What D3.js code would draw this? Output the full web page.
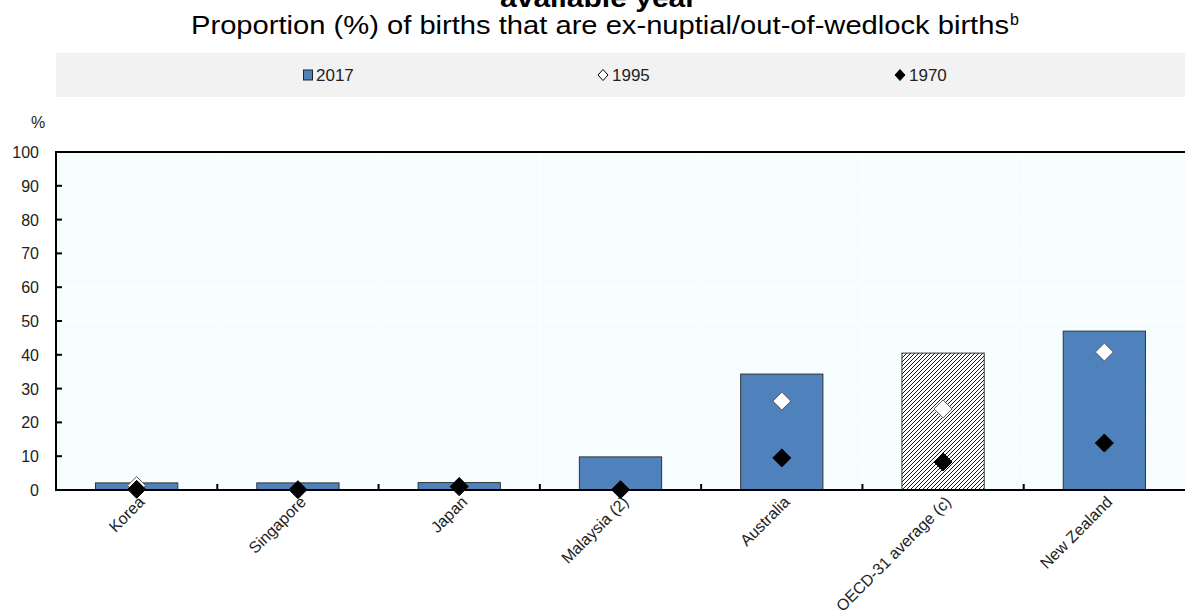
<!DOCTYPE html>
<html>
<head>
<meta charset="utf-8">
<script src="https://cdn.jsdelivr.net/npm/d3@7"></script>
<style>
  body { margin: 0; background: #fff; }
  svg { display: block; }
  text { font-family: "Liberation Sans", Arial, sans-serif; }
</style>
</head>
<body>
<div id="viz-container"></div>
<script>
const categories = ["Korea", "Singapore", "Japan", "Malaysia (2)", "Australia", "OECD-31 average (c)", "New Zealand"];
const values2017 = [2.1, 2.1, 2.2, 9.8, 34.3, 40.5, 47.0];
const values1995 = [1.3, null, 1.0, null, 26.3, 24.0, 40.8];
const values1970 = [0.2, 0.1, 1.0, 0.1, 9.5, 8.3, 13.9];
const yTicks = [0, 10, 20, 30, 40, 50, 60, 70, 80, 90, 100];
const legendLabels = ["2017", "1995", "1970"];

const width = 1185, height = 614;
const plotL = 56, plotR = 1185, plotT = 152, plotB = 490;

const viz = d3.select('#viz-container')
    .append('svg')
        .attr('width', width)
        .attr('height', height);

// pattern for the OECD average bar
const defs = viz.append('defs');
const pat = defs.append('pattern')
    .attr('id', 'hatch')
    .attr('patternUnits', 'userSpaceOnUse')
    .attr('width', 4)
    .attr('height', 4);
pat.append('rect').attr('width', 4).attr('height', 4).attr('fill', '#fff');
pat.append('path')
    .attr('d', 'M-1,1 l2,-2 M0,4 l4,-4 M3,5 l2,-2')
    .attr('stroke', '#000')
    .attr('stroke-width', 0.9);

// titles (first line is cut off at the top in the original)
viz.append('text')
    .attr('x', 500).attr('y', 7)
    .attr('textLength', 197).attr('lengthAdjust', 'spacingAndGlyphs')
    .style('font-weight', 'bold')
    .style('font-size', '26px')
    .text('available year');

viz.append('text')
    .attr('x', 191).attr('y', 34)
    .attr('textLength', 818).attr('lengthAdjust', 'spacingAndGlyphs')
    .style('font-size', '26px')
    .text('Proportion (%) of births that are ex-nuptial/out-of-wedlock births');
viz.append('text')
    .attr('x', 1010).attr('y', 25)
    .style('font-size', '16px')
    .text('b');

// legend band
viz.append('rect')
    .attr('x', 56).attr('y', 53)
    .attr('width', width - 56).attr('height', 44)
    .attr('fill', '#f2f2f2');

const legendX = [303, 597, 894];
const legend = viz.selectAll('.legend').data(legendLabels).enter()
    .append('g')
        .attr('transform', (d, i) => `translate(${legendX[i]},75)`);
legend.each(function (d, i) {
    const g = d3.select(this);
    if (i === 0) {
        g.append('rect').attr('x', 0.5).attr('y', -5).attr('width', 9).attr('height', 10)
            .attr('fill', '#4f81bd').attr('stroke', '#222').attr('stroke-width', 1);
    } else {
        g.append('path').attr('d', 'M6,-5.5 L11,0 L6,5.5 L1,0 Z')
            .attr('fill', i === 1 ? '#fff' : '#000')
            .attr('stroke', '#000').attr('stroke-width', 1);
    }
    g.append('text').attr('x', i === 0 ? 13 : 15).attr('y', 6)
        .style('font-size', '17px').attr('fill', '#222').text(d);
});

// scales
const x = d3.scaleBand().domain(categories).range([plotL, plotR]).paddingInner(0).paddingOuter(0);
const y = d3.scaleLinear().domain([0, 100]).range([plotB, plotT]);
const barW = x.bandwidth() * 0.51;

// plot background
viz.append('rect')
    .attr('x', plotL).attr('y', plotT)
    .attr('width', plotR - plotL).attr('height', plotB - plotT)
    .attr('fill', '#f5fdff');

// gridlines
viz.selectAll('.hgrid').data(yTicks.slice(1, -1)).enter()
    .append('line')
        .attr('x1', plotL).attr('x2', plotR)
        .attr('y1', d => y(d)).attr('y2', d => y(d))
        .attr('stroke', '#fff').attr('stroke-width', 1);
viz.selectAll('.vgrid').data(categories.slice(1)).enter()
    .append('line')
        .attr('x1', d => x(d)).attr('x2', d => x(d))
        .attr('y1', plotT).attr('y2', plotB)
        .attr('stroke', '#fff').attr('stroke-width', 1);

// bars
viz.selectAll('.bar').data(categories).enter()
    .append('rect')
        .attr('x', d => x(d) + (x.bandwidth() - barW) / 2)
        .attr('y', (d, i) => y(values2017[i]))
        .attr('width', barW)
        .attr('height', (d, i) => plotB - y(values2017[i]))
        .attr('fill', d => d.startsWith('OECD') ? 'url(#hatch)' : '#4f81bd')
        .attr('stroke', '#333')
        .attr('stroke-width', 1);

// markers
const diamond = 'M0,-9 L9,0 L0,9 L-9,0 Z';
const pts1995 = categories.map((c, i) => ({ c, v: values1995[i] })).filter(d => d.v !== null);
viz.selectAll('.m1995').data(pts1995).enter()
    .append('path')
        .attr('d', diamond)
        .attr('transform', d => `translate(${x(d.c) + x.bandwidth() / 2},${y(d.v)})`)
        .attr('fill', '#fff').attr('stroke', '#555').attr('stroke-width', 1);
const pts1970 = categories.map((c, i) => ({ c, v: values1970[i] }));
viz.selectAll('.m1970').data(pts1970).enter()
    .append('path')
        .attr('d', diamond)
        .attr('transform', d => `translate(${x(d.c) + x.bandwidth() / 2},${y(d.v)})`)
        .attr('fill', '#000').attr('stroke', '#000').attr('stroke-width', 1);

// axes frame
viz.append('line').attr('x1', plotL).attr('x2', plotR).attr('y1', plotT).attr('y2', plotT)
    .attr('stroke', '#000').attr('stroke-width', 2);
viz.append('line').attr('x1', plotL).attr('x2', plotL).attr('y1', plotT - 1).attr('y2', plotB + 1)
    .attr('stroke', '#000').attr('stroke-width', 2);
viz.append('line').attr('x1', plotL).attr('x2', plotR).attr('y1', plotB).attr('y2', plotB)
    .attr('stroke', '#000').attr('stroke-width', 2);

// y ticks
const yAxis = viz.append('g');
yAxis.selectAll('.yt').data(yTicks.slice(1, -1)).enter()
    .append('line')
        .attr('x1', plotL).attr('x2', plotL + 6)
        .attr('y1', d => y(d)).attr('y2', d => y(d))
        .attr('stroke', '#000').attr('stroke-width', 2);
yAxis.selectAll('.yl').data(yTicks).enter()
    .append('text')
        .attr('x', 39).attr('y', d => y(d) + 6)
        .attr('text-anchor', 'end')
        .style('font-size', '16px').attr('fill', '#222')
        .text(d => d);
viz.append('text').attr('x', 31).attr('y', 128)
    .style('font-size', '16px').attr('fill', '#222').text('%');

// x ticks
viz.selectAll('.xt').data(categories.slice(1)).enter()
    .append('line')
        .attr('x1', d => x(d)).attr('x2', d => x(d))
        .attr('y1', plotB).attr('y2', plotB - 6)
        .attr('stroke', '#000').attr('stroke-width', 2);

viz.selectAll('.xl').data(categories).enter()
    .append('text')
        .attr('transform', d => `translate(${x(d) + x.bandwidth() / 2 + 9},${plotB + 13}) rotate(-45)`)
        .attr('text-anchor', 'end')
        .style('font-size', '16px').attr('fill', '#222')
        .text(d => d);
</script>
</body>
</html>
